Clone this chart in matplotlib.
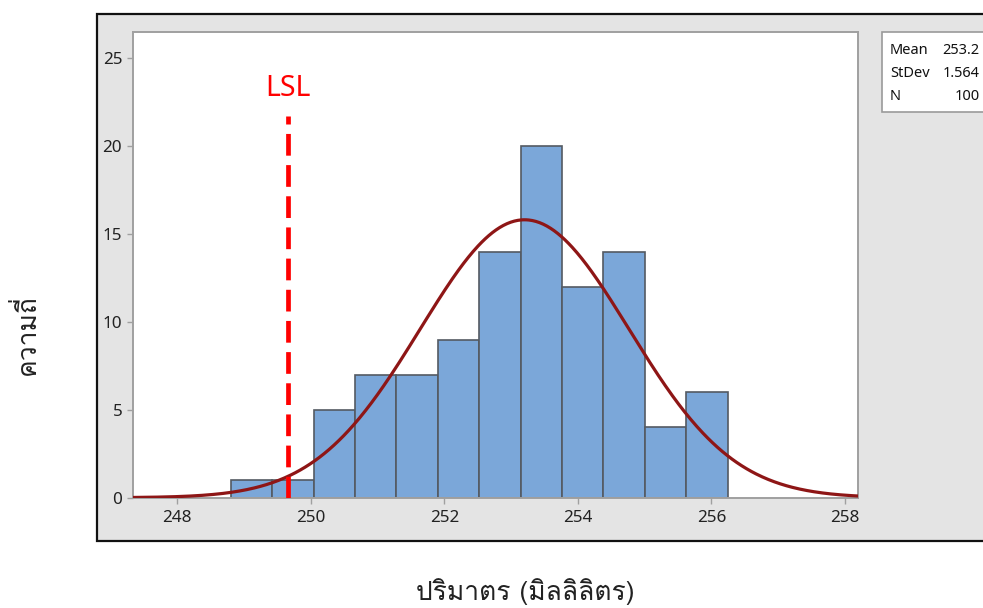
import numpy as np
import matplotlib
matplotlib.use("Agg")
import matplotlib.pyplot as plt
from matplotlib import font_manager
from matplotlib.font_manager import FontProperties
from matplotlib.patches import Rectangle

# Histogram data: bin edges and counts per bin
bin_edges = [248.80, 249.42, 250.04, 250.66, 251.28, 251.90, 252.52,
             253.14, 253.76, 254.38, 255.00, 255.62, 256.24]
counts = [1, 1, 5, 7, 7, 9, 14, 20, 12, 14, 4, 6]

# Summary statistics
mean_val = 253.2
stdev_val = 1.564
n_val = 100
lsl_val = 249.66

x_ticks = [248, 250, 252, 254, 256, 258]
y_ticks = [0, 5, 10, 15, 20, 25]

x_label = "ปริมาตร (มิลลิลิตร)"
y_label = "ความถี่"

# Find a regular-weight, upright font file that covers Thai script
def _weight(f):
    w = f.weight
    if isinstance(w, str):
        w = {"light": 300, "normal": 400, "regular": 400, "book": 400,
             "medium": 500, "semibold": 600, "bold": 700}.get(w.lower(), 400)
    return w

def thai_font_props(size):
    prefs = ["Loma", "Noto Sans Thai Looped", "Noto Sans Thai",
             "IBM Plex Sans Thai Looped", "Sarabun"]
    entries = font_manager.fontManager.ttflist
    for name in prefs:
        cands = [f for f in entries if f.name == name and f.style == "normal"
                 and "Bold" not in f.fname and "Oblique" not in f.fname]
        if not cands:
            continue
        cands.sort(key=lambda f: (abs(_weight(f) - 400), _weight(f)))
        return FontProperties(fname=cands[0].fname, size=size)
    return FontProperties(family="DejaVu Sans", size=size)

available = {f.name for f in font_manager.fontManager.ttflist}
latin_font = "Noto Sans" if "Noto Sans" in available else "DejaVu Sans"
plt.rcParams["font.family"] = [latin_font, "DejaVu Sans"]

W, H = 983, 608
fig = plt.figure(figsize=(W / 100, H / 100), dpi=100)

# Outer gray panel with black frame (extends past the right edge)
frame = Rectangle((97 / W, 1 - 540.5 / H), (995 - 97) / W, (540.5 - 14) / H,
                  transform=fig.transFigure, facecolor="#e4e4e4",
                  edgecolor="#111111", linewidth=1.6, zorder=-2)
fig.patches.append(frame)

ax = fig.add_axes([133.3 / W, 1 - 497.7 / H, (857.7 - 133.3) / W, (497.7 - 32) / H])
ax.set_zorder(1)
ax.set_facecolor("white")

widths = np.diff(bin_edges)
ax.bar(bin_edges[:-1], counts, width=widths, align="edge",
       color="#7ba7d9", edgecolor="#545a62", linewidth=1.2, zorder=2)

# Fitted normal curve scaled to the histogram
bw = float(np.mean(widths))
xs = np.linspace(247.34, 258.19, 600)
ys = n_val * bw / (stdev_val * np.sqrt(2 * np.pi)) * np.exp(-0.5 * ((xs - mean_val) / stdev_val) ** 2)
ax.plot(xs, ys, color="#8e1616", linewidth=2.3, zorder=3)

# Lower specification limit
ax.plot([lsl_val, lsl_val], [0, 21.7], color="#ff0000", linewidth=3.4,
        dashes=(4.6, 2.0), zorder=4)
ax.text(lsl_val, 23.3, "LSL", color="#ff0000", fontsize=20.5,
        ha="center", va="center", zorder=5)

ax.set_xlim(247.34, 258.19)
ax.set_ylim(0, 26.5)
ax.set_xticks(x_ticks)
ax.set_yticks(y_ticks)
ax.tick_params(axis="both", colors="#a0a0a0", labelcolor="#222222",
               labelsize=12.3, length=4, width=1.0)
ax.tick_params(axis="x", pad=5)
ax.tick_params(axis="y", pad=4)
for s in ax.spines.values():
    s.set_color("#a0a0a0")
    s.set_linewidth(1.4)

fig.text(26 / W, 1 - 335 / H, y_label, rotation=90, ha="center", va="center",
         color="#222222", fontproperties=thai_font_props(19))
fig.text(525 / W, 1 - 592 / H, x_label, ha="center", va="center",
         color="#222222", fontproperties=thai_font_props(19))

# Statistics box
box = Rectangle((881.7 / W, 1 - 111.7 / H), (995 - 881.7) / W, (111.7 - 31.7) / H,
                transform=fig.transFigure, facecolor="white",
                edgecolor="#9a9a9a", linewidth=1.2, zorder=-1)
fig.patches.append(box)
stat_names = ["Mean", "StDev", "N"]
stat_values = [f"{mean_val:.1f}", f"{stdev_val:.3f}", f"{n_val}"]
for i, (nm, vl) in enumerate(zip(stat_names, stat_values)):
    yy = 1 - (50.5 + i * 23) / H
    fig.text(890 / W, yy, nm, ha="left", va="center", fontsize=10.5, color="#111111")
    fig.text(979.5 / W, yy, vl, ha="right", va="center", fontsize=10.5, color="#111111")

fig.savefig("out.png", dpi=100)
